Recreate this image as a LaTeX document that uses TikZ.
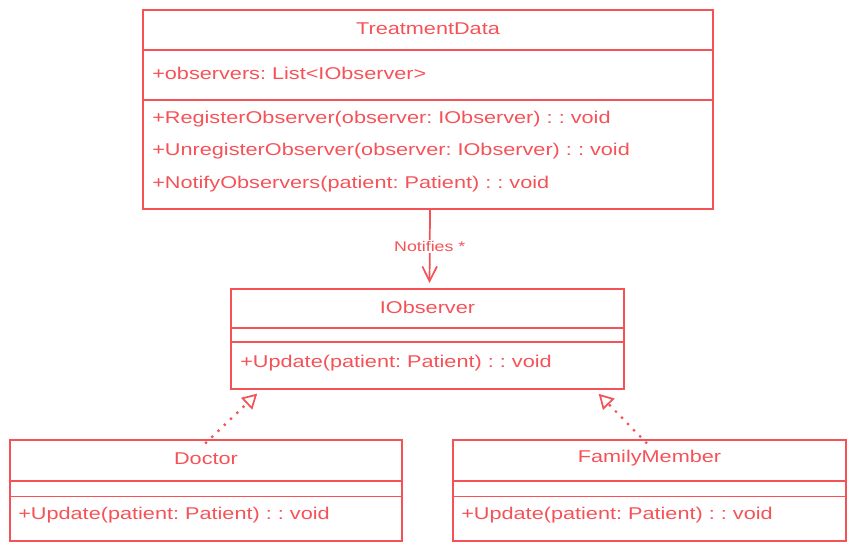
\documentclass[tikz,border=0pt]{standalone}
\usepackage{fontspec}
\setmainfont[FakeStretch=1.27]{Liberation Sans}
\usepackage{tikz}
\usetikzlibrary{arrows.meta}

\definecolor{umlred}{RGB}{245,82,88}

\tikzset{
  classbox/.style={draw=umlred, line width=1.3pt, outer sep=0pt, inner sep=0pt},
  classline/.style={draw=umlred, line width=1pt},
  classtext/.style={text=umlred, font=\fontsize{12.8}{14}\selectfont, inner sep=0.75pt},
  membertext/.style={classtext, anchor=west},
  relline/.style={draw=umlred, line width=1.3pt},
  dotline/.style={draw=umlred, line width=2.4pt, line cap=round, dash pattern=on 0pt off 6.5pt},
  realtip/.style={-{Triangle[open,length=11pt,width=12pt,line width=1.3pt,line join=miter]}},
}

\begin{document}
\frenchspacing
\begin{tikzpicture}[x=0.75pt,y=0.75pt,yscale=-1]
\useasboundingbox (0,0) rectangle (856,551);

%Class TreatmentData
\node[classbox, minimum width=427.5pt, minimum height=149.25pt] (tdata) at (428,109.5) {};
\draw[classline] (tdata.west |- 0,50) -- (tdata.east |- 0,50);
\draw[classline] (tdata.west |- 0,100) -- (tdata.east |- 0,100);
\node[classtext] (tdatatitle) at (428,28.5) {TreatmentData};
\node[membertext] (tdataobs) at (151,73.5) {+observers: List<IObserver>};
\node[membertext] (tdatareg) at (151,119) {+RegisterObserver(observer: IObserver) : : void};
\node[membertext] (tdataunreg) at (151,151.5) {+UnregisterObserver(observer: IObserver) : : void};
\node[membertext] (tdatanotify) at (151,184.5) {+NotifyObservers(patient: Patient) : : void};

%Class IObserver
\node[classbox, minimum width=294.75pt, minimum height=75pt] (iobs) at (427.5,339) {};
\draw[classline] (iobs.west |- 0,328) -- (iobs.east |- 0,328);
\draw[classline] (iobs.west |- 0,342) -- (iobs.east |- 0,342);
\node[classtext] (iobstitle) at (427.5,307.5) {IObserver};
\node[membertext] (iobsupdate) at (239,363.5) {+Update(patient: Patient) : : void};

%Class Doctor
\node[classbox, minimum width=294pt, minimum height=75.75pt] (doctor) at (206,490.5) {};
\draw[classline] (doctor.west |- 0,481) -- (doctor.east |- 0,481);
\draw[classline] (doctor.west |- 0,496.5) -- (doctor.east |- 0,496.5);
\node[classtext] (doctortitle) at (206,458.5) {Doctor};
\node[membertext] (doctorupdate) at (17,515.5) {+Update(patient: Patient) : : void};

%Class FamilyMember
\node[classbox, minimum width=294.75pt, minimum height=75.75pt] (family) at (649.5,490.5) {};
\draw[classline] (family.west |- 0,481) -- (family.east |- 0,481);
\draw[classline] (family.west |- 0,496.5) -- (family.east |- 0,496.5);
\node[classtext] (familytitle) at (649.5,458.5) {FamilyMember};
\node[membertext] (familyupdate) at (460,515.5) {+Update(patient: Patient) : : void};

%Association
\draw[relline, -{Straight Barb[length=11pt,width=11pt,line width=1.3pt]}, shorten >=4.5pt] ([xshift=1.5pt]tdata.south) -- ([xshift=1.5pt]iobs.north)
  node[pos=0.47, fill=white, text=umlred, font=\fontsize{10.5}{12}\selectfont, inner sep=1pt] (notifies) {Notifies *};

%Realization
\draw[dotline, realtip, shorten >=5pt] ([yshift=2pt]doctor.north) -- ([xshift=23.25pt]iobs.south west);
\draw[dotline, realtip, shorten >=5pt] ([xshift=-2.5pt,yshift=2pt]family.north) -- ([xshift=-22.5pt]iobs.south east);

\end{tikzpicture}
\end{document}
